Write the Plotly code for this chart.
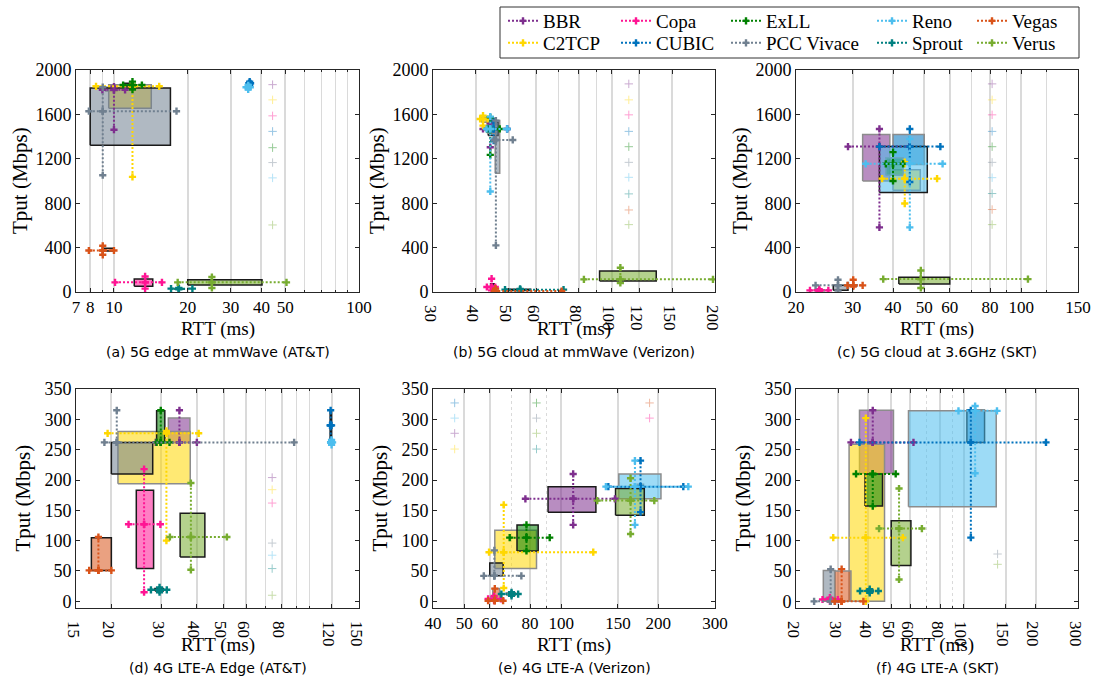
import math
import plotly.graph_objects as go

# ---------------- data ----------------
SCHEMES = ["BBR", "C2TCP", "Copa", "CUBIC", "ExLL", "PCC Vivace", "Reno", "Sprout", "Vegas", "Verus"]
COLORS = ["#7E2F8E", "#FFD700", "#FF1493", "#0072BD", "#008000", "#708090", "#4DBEEE", "#008080", "#D95319", "#77AC30"]

# each row: [min, q1, median, q3, max]
A_RTT = [[8.97, 9.2, 10.0, 10.3, 11.1], [8.45, 9.52, 11.9, 14.2, 15.3], [10.1, 12.1, 13.4, 14.4, 15.7],
         [35.5, 35.6, 35.8, 36.0, 36.1], [10.9, 10.9, 11.9, 12.0, 13.0], [7.9, 8.0, 9.0, 17.0, 18.0],
         [34.6, 34.9, 35.3, 35.7, 36.0], [17.1, 17.6, 18.4, 19.5, 20.9], [7.9, 9.0, 9.0, 10.0, 10.0],
         [18.2, 20.0, 25.1, 40.2, 50.6]]
A_TPUT = [[1462, 1810, 1821, 1845, 1851], [1037, 1656, 1853, 1868, 1868], [30, 51, 87, 117, 140],
          [1860, 1870, 1880, 1890, 1895], [1824, 1855, 1865, 1880, 1895], [1052, 1321, 1629, 1838, 1845],
          [1825, 1835, 1845, 1855, 1862], [25, 27, 30, 33, 36], [335, 370, 374, 395, 416],
          [36, 63, 87, 111, 135]]
A_EDGE = ["g", "g", "k", "g", "k", "k", "g", "k", "k", "k"]

B_RTT = [[42.0, 43.0, 44.1, 45.5, 49.4], [41.2, 41.6, 42.0, 43.0, 43.3], [43.1, 44.2, 44.5, 45.3, 45.6],
         [43.5, 43.5, 45.1, 46.5, 49.4], [43.2, 43.6, 44.1, 44.8, 47.0], [45.3, 45.6, 45.8, 47.0, 51.3],
         [43.0, 43.2, 44.1, 45.5, 49.4], [48.7, 49.2, 53.9, 57.9, 72.2], [45.3, 45.5, 45.7, 46.5, 71.3],
         [82.8, 92.0, 105.8, 134.7, 197.3]]
B_TPUT = [[1304, 1440, 1469, 1500, 1520], [1499, 1530, 1559, 1575, 1589], [15, 20, 45, 75, 120],
          [1364, 1410, 1469, 1530, 1540], [1235, 1440, 1469, 1500, 1574], [420, 1070, 1370, 1544, 1544],
          [906, 1430, 1469, 1560, 1580], [12, 14, 21, 25, 28], [0, 3, 9, 15, 30],
          [81, 99, 114, 189, 219]]
B_EDGE = ["g", "g", "k", "k", "g", "g", "g", "k", "g", "k"]

C_RTT = [[29.0, 32.2, 36.3, 39.1, 45.0], [37.0, 40.0, 43.5, 48.6, 54.8], [22.1, 22.8, 23.6, 24.5, 25.2],
         [36.3, 40.0, 45.1, 50.0, 56.1], [38.0, 38.0, 40.0, 43.0, 43.0], [23.0, 26.1, 27.0, 29.0, 29.0],
         [32.9, 36.3, 45.1, 51.1, 57.0], None, [28.9, 29.5, 30.1, 31.0, 32.2],
         [37.3, 41.7, 48.8, 60.0, 104.9]]
C_TPUT = [[582, 1000, 1310, 1418, 1469], [797, 916, 1021, 1101, 1170], [5, 10, 15, 20, 25],
          [991, 1149, 1310, 1418, 1469], [1000, 1051, 1155, 1209, 1260], [12, 15, 60, 60, 110],
          [582, 896, 1155, 1310, 1379], None, [50, 55, 60, 65, 110],
          [36, 72, 116, 134, 194]]
C_EDGE = ["g", "g", "g", "g", "g", "k", "k", None, "g", "k"]

D_RTT = [[28.7, 31.8, 34.8, 37.9, 40.1], [19.4, 21.1, 31.3, 38.0, 40.7], [23.0, 24.5, 26.1, 28.2, 29.8],
         [118.5, 118.6, 119.1, 120.0, 120.0], [28.9, 28.9, 29.9, 30.9, 32.1], [18.9, 20.0, 20.9, 28.0, 88.5],
         [119.0, 119.5, 120.0, 120.5, 121.0], [27.6, 28.5, 29.6, 30.5, 31.4], [16.7, 17.0, 18.0, 20.0, 20.0],
         [32.2, 35.0, 38.2, 42.8, 51.2]]
D_TPUT = [[262, 262, 262, 302, 315], [100, 194, 277, 280, 281], [15, 54, 127, 183, 218],
          [262, 262, 290, 315, 315], [262, 262, 262, 314, 315], [262, 210, 262, 262, 315],
          [258, 260, 262, 264, 266], [15, 17, 19, 21, 23], [51, 51, 51, 105, 106],
          [52, 73, 106, 145, 195]]
D_EDGE = ["g", "g", "k", "k", "k", "k", "g", "k", "k", "k"]

E_RTT = [[77.4, 91.0, 108.9, 128.1, 146.8], [59.7, 62.2, 66.3, 83.8, 125.7], [59.3, 60.5, 61.9, 63.0, 65.0],
         [140.0, 172.0, 176.2, 180.0, 239.2], [69.2, 72.9, 78.0, 84.8, 92.1], [57.5, 60.0, 62.0, 66.0, 75.2],
         [137.6, 150.9, 169.3, 203.9, 247.9], [65.2, 67.5, 70.1, 72.0, 73.5], [59.3, 61.3, 62.2, 64.4, 66.0],
         [129.3, 147.4, 164.1, 181.0, 194.4]]
E_TPUT = [[126, 147, 169, 189, 210], [22, 54, 81, 117, 159], [1, 2, 4, 8, 9],
          [147, 185, 189, 193, 232], [83, 83, 105, 126, 126], [42, 42, 42, 63, 84],
          [126, 169, 189, 210, 232], [9, 10, 12, 14, 15], [1, 1, 1, 21, 21],
          [111, 142, 166, 186, 203]]
E_EDGE = ["k", "g", "g", "g", "k", "k", "g", "g", "g", "k"]

F_RTT = [[33.9, 36.8, 41.8, 51.0, 61.8], [28.6, 33.3, 39.1, 46.8, 55.8], [25.8, 26.5, 27.7, 29.0, 29.9],
         [36.8, 103.2, 107.2, 122.3, 220.6], [35.6, 38.8, 41.8, 45.9, 52.1], [23.8, 26.0, 27.9, 29.1, 29.1],
         [95.2, 58.9, 111.7, 136.8, 137.8], [37.0, 39.0, 40.6, 42.0, 44.1], [29.0, 29.0, 31.0, 33.9, 38.2],
         [44.4, 49.9, 53.8, 60.3, 67.0]]
F_TPUT = [[262, 211, 262, 315, 315], [0, 0, 105, 259, 302], [0, 1, 3, 5, 6],
          [105, 262, 262, 315, 315], [157, 157, 210, 210, 210], [0, 0, 0, 51, 53],
          [211, 156, 314, 314, 322], [14, 15, 17, 19, 20], [0, 0, 0, 50, 53],
          [36, 59, 120, 133, 186]]
F_EDGE = ["g", "g", "g", "k", "k", "g", "g", "g", "g", "k"]

# faint leftover markers (scheme index, RTT, Tput)
GA_IDX = [0, 1, 2, 3, 4, 5, 6, 9]
GA_RTT = [44.4] * 8
GA_TPUT = [1868, 1731, 1587, 1447, 1300, 1166, 1028, 604]
GB_IDX = [0, 1, 2, 3, 4, 5, 6, 7, 8, 9]
GB_RTT = [112] * 10
GB_TPUT = [1875, 1731, 1596, 1447, 1309, 1168, 1033, 884, 739, 607]
GC_IDX = [0, 1, 2, 3, 4, 5, 6, 7, 8, 9]
GC_RTT = [81.2] * 10
GC_TPUT = [1875, 1731, 1596, 1447, 1309, 1168, 1030, 887, 743, 607]
GD_IDX = [0, 1, 2, 5, 6, 7, 9]
GD_RTT = [74] * 7
GD_TPUT = [204, 184, 162, 96, 76, 54, 10]
GE_IDX = [3, 6, 0, 1, 4, 5, 9, 7, 8, 2]
GE_RTT = [46.7, 46.7, 46.7, 46.7, 83.8, 83.8, 83.8, 83.8, 188, 188]
GE_TPUT = [327, 302, 277, 251, 327, 302, 277, 251, 327, 302]
GF_IDX = [5, 9]
GF_RTT = [138.6, 138.6]
GF_TPUT = [78, 61]

CAPTIONS = ["(a) 5G edge at mmWave (AT&T)", "(b) 5G cloud at mmWave (Verizon)", "(c) 5G cloud at 3.6GHz (SKT)",
            "(d) 4G LTE-A Edge (AT&T)", "(e) 4G LTE-A (Verizon)", "(f) 4G LTE-A (SKT)"]

X_TICKS = [[7, 8, 10, 20, 30, 40, 50, 100], [30, 40, 50, 60, 80, 100, 120, 150, 200],
           [20, 30, 40, 50, 60, 80, 100, 150], [15, 20, 30, 40, 50, 60, 80, 120, 150],
           [40, 50, 60, 80, 100, 150, 200, 300], [20, 30, 40, 50, 60, 80, 100, 150, 200, 300]]
X_MINOR = [[9, 60, 70, 80, 90], [70, 90], [70, 90, 120], [70, 90, 100], [70, 90], [70, 90]]
X_RANGES = [[7, 100], [30, 200], [20, 150], [15, 150], [40, 300], [20, 300]]
Y_TICKS_TOP = [0, 400, 800, 1200, 1600, 2000]
Y_TICKS_BOT = [0, 50, 100, 150, 200, 250, 300, 350]

# ---------------- layout geometry (pixels) ----------------
W, H = 1095, 677
COL_X = [(76, 359), (433, 715), (796, 1078)]
ROW_Y = [(70, 292), (389, 608)]


def px_x(v):
    return v / W


def px_y(v):
    return 1 - v / H


def rgba(hexc, a):
    h = hexc.lstrip("#")
    r, g, b = int(h[0:2], 16), int(h[2:4], 16), int(h[4:6], 16)
    return f"rgba({r},{g},{b},{a})"


panels = [(A_RTT, A_TPUT, A_EDGE, GA_IDX, GA_RTT, GA_TPUT),
          (B_RTT, B_TPUT, B_EDGE, GB_IDX, GB_RTT, GB_TPUT),
          (C_RTT, C_TPUT, C_EDGE, GC_IDX, GC_RTT, GC_TPUT),
          (D_RTT, D_TPUT, D_EDGE, GD_IDX, GD_RTT, GD_TPUT),
          (E_RTT, E_TPUT, E_EDGE, GE_IDX, GE_RTT, GE_TPUT),
          (F_RTT, F_TPUT, F_EDGE, GF_IDX, GF_RTT, GF_TPUT)]

fig = go.Figure()
EDGE_COL = {"k": "#1a1a1a", "g": "#8c8c8c"}
LEG_COL_X = [503, 616, 726, 872, 972]
LEG_ROW_Y = [21, 43]

for pi, (rtt, tput, edge, gidx, grtt, gtput) in enumerate(panels):
    xa = "x" if pi == 0 else f"x{pi + 1}"
    ya = "y" if pi == 0 else f"y{pi + 1}"
    fig.add_trace(go.Scatter(
        x=grtt, y=gtput, mode="markers", xaxis=xa, yaxis=ya, showlegend=False, hoverinfo="skip",
        marker=dict(symbol="cross-thin", size=6, opacity=0.4,
                    line=dict(width=1, color=[COLORS[i] for i in gidx]))))
    for si in range(len(SCHEMES)):
        if rtt[si] is None:
            continue
        r, t = rtt[si], tput[si]
        fig.add_trace(go.Scatter(
            x=[r[1], r[3], r[3], r[1], r[1]], y=[t[1], t[1], t[3], t[3], t[1]],
            mode="lines", fill="toself", fillcolor=rgba(COLORS[si], 0.55),
            line=dict(color=EDGE_COL[edge[si]], width=1.5),
            xaxis=xa, yaxis=ya, showlegend=False, hoverinfo="skip"))
    for si in range(len(SCHEMES)):
        if rtt[si] is None:
            continue
        r, t = rtt[si], tput[si]
        if pi == 0:
            leg = "legend" if si == 0 else f"legend{si + 1}"
            kw = dict(showlegend=True, legend=leg)
        else:
            kw = dict(showlegend=False)
        fig.add_trace(go.Scatter(
            x=[r[0], r[2], r[4], None, r[2], r[2], r[2]],
            y=[t[2], t[2], t[2], None, t[0], t[2], t[4]],
            mode="lines+markers", name=SCHEMES[si],
            line=dict(color=COLORS[si], width=2, dash="2px,2px"),
            marker=dict(symbol="cross", size=6, color=COLORS[si]),
            xaxis=xa, yaxis=ya, hoverinfo="skip", **kw))

AX_LINE = "#262626"
layout = dict(width=W, height=H, margin=dict(l=0, r=0, t=0, b=0, pad=0, autoexpand=False),
              paper_bgcolor="white", plot_bgcolor="white", showlegend=True)

for pi in range(6):
    row, col = divmod(pi, 3)
    x0, x1 = COL_X[col]
    ytop, ybot = ROW_Y[row]
    xk = "xaxis" if pi == 0 else f"xaxis{pi + 1}"
    yk = "yaxis" if pi == 0 else f"yaxis{pi + 1}"
    ya = "y" if pi == 0 else f"y{pi + 1}"
    xa = "x" if pi == 0 else f"x{pi + 1}"
    lo, hi = X_RANGES[pi]
    griddash = "dot" if pi >= 4 else "solid"
    layout[xk] = dict(
        type="log", range=[math.log10(lo), math.log10(hi)], domain=[px_x(x0), px_x(x1)], anchor=ya,
        showline=True, linecolor=AX_LINE, linewidth=1, mirror="ticks", ticks="inside", ticklen=4,
        tickcolor=AX_LINE, tickvals=X_TICKS[pi], ticktext=[str(v) for v in X_TICKS[pi]],
        tickfont=dict(family="Liberation Serif", size=17, color="black"), automargin=False,
        showgrid=True, gridcolor="#dadada", gridwidth=1.5, zeroline=False,
        minor=dict(tickmode="array", tickvals=X_MINOR[pi], ticks="inside", ticklen=2, tickcolor=AX_LINE,
                   showgrid=True, gridcolor="#dadada", gridwidth=1.2, griddash=griddash))
    if row == 0:
        yr, yt = [0, 2000], Y_TICKS_TOP
    else:
        yr, yt = [-11, 350], Y_TICKS_BOT
    layout[yk] = dict(
        range=yr, domain=[px_y(ybot), px_y(ytop)], anchor=xa,
        showline=True, linecolor=AX_LINE, linewidth=1, mirror="ticks", ticks="inside", ticklen=4,
        tickcolor=AX_LINE, tickvals=yt, ticktext=[str(v) for v in yt], automargin=False,
        tickfont=dict(family="Liberation Serif", size=18, color="black"),
        showgrid=False, zeroline=False)

for si in range(len(SCHEMES)):
    key = "legend" if si == 0 else f"legend{si + 1}"
    c, r = divmod(si, 2)
    layout[key] = dict(x=px_x(LEG_COL_X[c]), y=px_y(LEG_ROW_Y[r]), xanchor="left", yanchor="middle",
                       bgcolor="rgba(0,0,0,0)", borderwidth=0,
                       font=dict(family="Liberation Serif", size=19, color="black"))

annotations = []
YT_X = [20, 377, 740]
for pi in range(6):
    row, col = divmod(pi, 3)
    x0, x1 = COL_X[col]
    ytop, ybot = ROW_Y[row]
    cx = (x0 + x1) / 2
    annotations.append(dict(text="RTT (ms)", x=px_x(cx), y=px_y(ybot + 37), xref="paper", yref="paper",
                            showarrow=False, xanchor="center", yanchor="middle",
                            font=dict(family="Liberation Serif", size=19, color="black")))
    annotations.append(dict(text="Tput (Mbps)", x=px_x(YT_X[col] + row * 2), y=px_y((ytop + ybot) / 2),
                            xref="paper", yref="paper", showarrow=False, textangle=-90,
                            xanchor="center", yanchor="middle",
                            font=dict(family="Liberation Serif", size=21, color="black")))
    annotations.append(dict(text=CAPTIONS[pi], x=px_x(cx), y=px_y(ybot + 60), xref="paper", yref="paper",
                            showarrow=False, xanchor="center", yanchor="middle",
                            font=dict(family="DejaVu Sans", size=14, color="black")))
layout["annotations"] = annotations
layout["shapes"] = [dict(type="rect", xref="paper", yref="paper", x0=px_x(500), x1=px_x(1079),
                         y0=px_y(58), y1=px_y(7), line=dict(color="#333333", width=1),
                         fillcolor="rgba(0,0,0,0)", layer="above")]

fig.update_layout(**layout)
fig.write_html("out.html", config={"displayModeBar": False},
               post_script="document.body.style.margin='0px';document.body.style.overflow='hidden';")
